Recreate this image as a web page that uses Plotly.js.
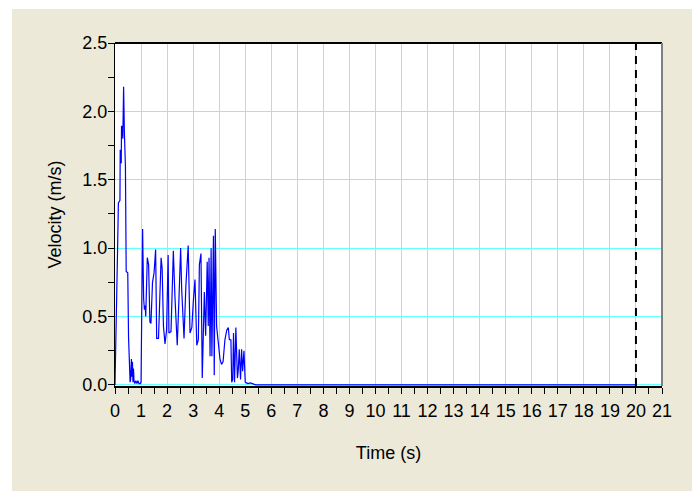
<!DOCTYPE html>
<html>
<head>
<meta charset="utf-8">
<script src="https://cdn.plot.ly/plotly-3.0.1.min.js"></script>
<style>
  html, body { margin: 0; padding: 0; background: #ffffff; width: 700px; height: 491px; overflow: hidden; }
  #chart { position: absolute; left: 12px; top: 9px; width: 680px; height: 482px; }
</style>
</head>
<body>
<div id="chart"></div>
<script>
// Time (s)
const time = [
  0.00, 0.02, 0.05, 0.10, 0.13, 0.16, 0.19, 0.20, 0.22, 0.24,
  0.25, 0.28, 0.30, 0.33, 0.36, 0.40, 0.43, 0.49, 0.52, 0.56,
  0.58, 0.60, 0.63, 0.65, 0.67, 0.69, 0.71, 0.73, 0.76, 0.80,
  0.84, 0.88, 0.92, 0.97, 1.00, 1.03, 1.06, 1.10, 1.13, 1.16,
  1.18, 1.24, 1.29, 1.34, 1.38, 1.44, 1.50, 1.56, 1.60, 1.67,
  1.72, 1.77, 1.81, 1.86, 1.92, 1.98, 2.04, 2.07, 2.15, 2.24,
  2.30, 2.39, 2.45, 2.52, 2.56, 2.65, 2.72, 2.81, 2.88, 2.95,
  3.01, 3.07, 3.14, 3.20, 3.24, 3.30, 3.35, 3.43, 3.48, 3.54,
  3.58, 3.61, 3.65, 3.69, 3.72, 3.78, 3.81, 3.85, 3.90, 3.96,
  4.03, 4.09, 4.15, 4.22, 4.29, 4.35, 4.39, 4.45, 4.48, 4.52,
  4.55, 4.59, 4.64, 4.70, 4.73, 4.77, 4.82, 4.86, 4.90, 4.95,
  5.00, 5.05, 5.10, 5.20, 5.30, 5.40, 20.00
];
// Velocity (m/s)
const velocity = [
  0.00, 0.25, 0.70, 1.00, 1.33, 1.34, 1.35, 1.72, 1.62, 1.62,
  1.89, 1.89, 1.80, 2.18, 1.85, 1.60, 0.83, 0.82, 0.35, 0.05,
  0.02, 0.04, 0.19, 0.06, 0.17, 0.02, 0.12, 0.03, 0.01, 0.03,
  0.01, 0.03, 0.01, 0.01, 0.02, 0.60, 1.14, 0.63, 0.55, 0.58,
  0.50, 0.93, 0.88, 0.46, 0.45, 0.75, 0.82, 0.99, 0.34, 0.34,
  0.60, 0.93, 0.85, 0.43, 0.30, 0.40, 0.95, 0.38, 0.39, 0.98,
  0.65, 0.29, 0.60, 1.00, 0.70, 0.34, 0.72, 1.02, 0.38, 0.42,
  0.62, 0.77, 0.29, 0.33, 0.88, 0.96, 0.05, 0.68, 0.36, 0.90,
  0.43, 0.93, 0.21, 1.00, 0.21, 1.09, 0.07, 1.14, 0.43, 0.30,
  0.19, 0.15, 0.17, 0.33, 0.40, 0.42, 0.33, 0.33, 0.02, 0.04,
  0.38, 0.02, 0.42, 0.05, 0.10, 0.26, 0.04, 0.26, 0.10, 0.25,
  0.02, 0.015, 0.01, 0.015, 0.01, 0.00, 0.00
];
const xTickVals = [0,1,2,3,4,5,6,7,8,9,10,11,12,13,14,15,16,17,18,19,20,21];
const yTickVals = [0.0, 0.5, 1.0, 1.5, 2.0, 2.5];
const yTickText = ["0.0", "0.5", "1.0", "1.5", "2.0", "2.5"];
const endTime = 20;

const font = { family: "Liberation Sans, Arial, sans-serif", size: 18, color: "#000000" };
const gridCyan = "#66ffff";

const trace = {
  x: time, y: velocity, type: "scatter", mode: "lines",
  line: { color: "#0000ff", width: 1.2 }, hoverinfo: "skip", showlegend: false
};

const layout = {
  width: 680, height: 482,
  margin: { l: 103, r: 30, t: 34, b: 105 },
  paper_bgcolor: "#ece9d8",
  plot_bgcolor: "#ffffff",
  font: font,
  showlegend: false,
  xaxis: {
    range: [0, 21], tickmode: "array", tickvals: xTickVals, ticktext: xTickVals.map(String),
    showgrid: true, gridcolor: gridCyan, gridwidth: 1,
    zeroline: false, showline: true, linecolor: "#000000", linewidth: 2, mirror: false,
    ticks: "outside", ticklen: 6, tickwidth: 1, tickcolor: "#000000",
    minor: { tickmode: "linear", dtick: 0.5, tick0: 0, ticks: "outside", ticklen: 6, tickwidth: 1, tickcolor: "#000000", showgrid: false },
    tickfont: font, ticklabelstandoff: 1,
    title: { text: "Time (s)", font: font, standoff: 27 }
  },
  yaxis: {
    range: [-0.008, 2.5], tickmode: "array", tickvals: yTickVals, ticktext: yTickText,
    showgrid: true, gridcolor: gridCyan, gridwidth: 1,
    zeroline: false, showline: true, linecolor: "#000000", linewidth: 1, mirror: false,
    ticks: "outside", ticklen: 6, tickwidth: 1, tickcolor: "#000000",
    minor: { tickmode: "linear", dtick: 0.25, tick0: 0, ticks: "outside", ticklen: 6, tickwidth: 1, tickcolor: "#000000", showgrid: false },
    tickfont: font, ticklabelstandoff: -3,
    title: { text: "Velocity (m/s)", font: font, standoff: 16 }
  },
  shapes: [
    { type: "line", xref: "paper", yref: "paper", x0: 0, x1: 1, y0: 1, y1: 1, line: { color: "#000000", width: 2 } },
    { type: "line", xref: "paper", yref: "paper", x0: 1, x1: 1, y0: 0, y1: 1, line: { color: "#808080", width: 2 } },
    { type: "line", xref: "x", yref: "paper", x0: endTime, x1: endTime, y0: 0, y1: 1, line: { color: "#000000", width: 2, dash: "8px,6px" } }
  ]
};

Plotly.newPlot("chart", [trace], layout, { displayModeBar: false, staticPlot: true });
</script>
</body>
</html>
